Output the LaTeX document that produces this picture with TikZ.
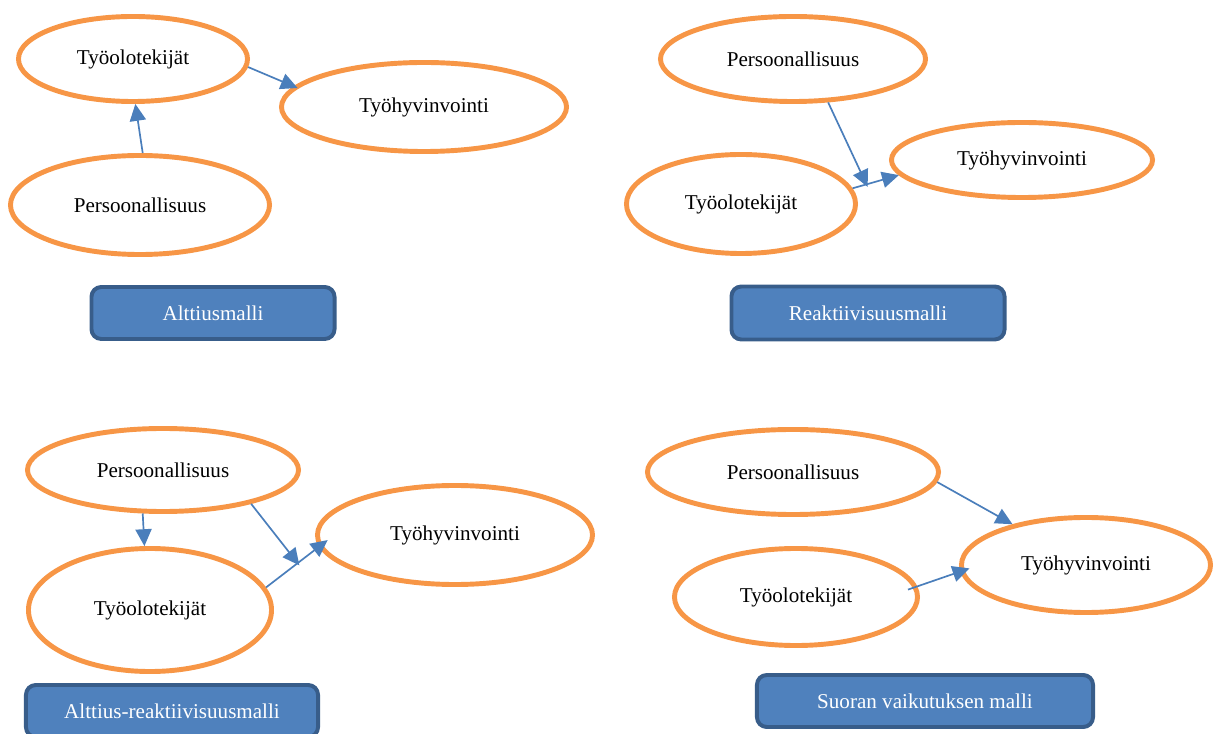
\documentclass[tikz,border=0pt]{standalone}
\usepackage{fontspec}
\setmainfont{Liberation Serif}
\usetikzlibrary{arrows.meta,shapes.geometric}

\definecolor{ringorange}{RGB}{247,150,70}
\definecolor{linkblue}{RGB}{74,126,187}
\definecolor{boxfill}{RGB}{79,129,189}
\definecolor{boxedge}{RGB}{56,93,138}

\begin{document}
\begin{tikzpicture}[
    x=0.025cm, y=-0.025cm,
    font=\fontsize{15}{18}\selectfont,
    factor/.style={ellipse,draw=ringorange,line width=3.5pt,fill=white,inner sep=0pt},
    model/.style={draw=boxedge,fill=boxfill,line width=2.8pt,rounded corners=7pt,
        text=white,inner sep=0pt},
    arrow/.style={draw=linkblue,line width=1.2pt,-{Triangle[length=12pt,width=11.5pt]}}
]
\useasboundingbox (0,0) rectangle (1218,734);

% Alttiusmalli
\node[factor,minimum width=5.725cm,minimum height=2.125cm] (t1) at (133,59) {Työolotekijät};
\node[factor,minimum width=7.125cm,minimum height=2.225cm] (w1) at (424,107) {Työhyvinvointi};
\node[factor,minimum width=6.475cm,minimum height=2.475cm] (p1) at (140,205) {Persoonallisuus};
\draw[arrow] (p1.87) -- (t1.-87);
\draw[arrow,shorten >=-3pt] (t1.-4) -- (w1.171);
\node[model,minimum width=6.075cm,minimum height=1.3cm] (m1) at (213,313) {Alttiusmalli};

% Reaktiivisuusmalli
\node[factor,minimum width=6.625cm,minimum height=2.125cm] (p2) at (793,59) {Persoonallisuus};
\node[factor,minimum width=5.725cm,minimum height=2.475cm] (t2) at (741,204) {Työolotekijät};
\node[factor,minimum width=6.525cm,minimum height=1.875cm] (w2) at (1022,160) {Työhyvinvointi};
\draw[arrow] (t2.8) -- coordinate[pos=0.3] (j2) (w2.187);
\draw[arrow,shorten >=-2pt] (p2.-51) -- (j2);
\node[model,minimum width=6.825cm,minimum height=1.325cm] (m2) at (868,313) {Reaktiivisuusmalli};

% Alttius-reaktiivisuusmalli
\node[factor,minimum width=6.775cm,minimum height=2.075cm] (p3) at (163,470) {Persoonallisuus};
\node[factor,minimum width=6.075cm,minimum height=3.075cm] (t3) at (150,610) {Työolotekijät};
\node[factor,minimum width=6.875cm,minimum height=2.475cm] (w3) at (455,535) {Työhyvinvointi};
\draw[arrow] (p3.-115) -- (t3.95);
\draw[arrow,shorten >=-8pt] (t3.11) -- coordinate[pos=0.6] (j3) (w3.185);
\draw[arrow,shorten >=-2pt] (p3.-21) -- (j3);
\node[model,minimum width=7.3cm,minimum height=1.3cm] (m3) at (172,711) {Alttius-reaktiivisuusmalli};

% Suoran vaikutuksen malli
\node[factor,minimum width=7.275cm,minimum height=2.125cm] (p4) at (793,472) {Persoonallisuus};
\node[factor,minimum width=6.075cm,minimum height=2.425cm] (t4) at (796,597) {Työolotekijät};
\node[factor,minimum width=6.225cm,minimum height=2.375cm] (w4) at (1086,565) {Työhyvinvointi};
\draw[arrow] (p4.-4) -- (w4.151);
\draw[arrow,shorten <=-7pt,shorten >=-7pt] (t4.5) -- (w4.183);
\node[model,minimum width=8.4cm,minimum height=1.3cm] (m4) at (925,701) {Suoran vaikutuksen malli};
\end{tikzpicture}
\end{document}
